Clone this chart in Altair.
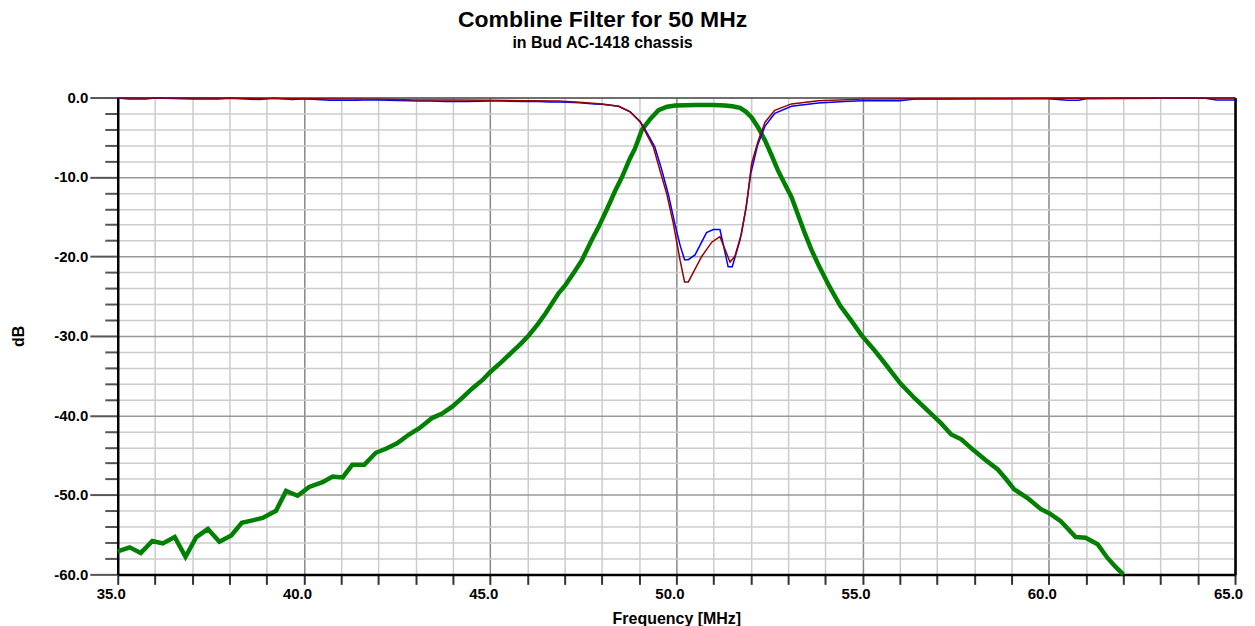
import altair as alt
import pandas as pd

# ---- data ----
GREEN_F = [35.0, 35.32, 35.62, 35.93, 36.21, 36.53, 36.82, 37.11, 37.42, 37.73, 38.05, 38.33, 38.62, 38.89,
           39.25, 39.52, 39.83, 40.14, 40.5, 40.77, 41.04, 41.3, 41.62, 41.93, 42.2, 42.5, 42.82, 43.1, 43.45,
           43.7, 43.98, 44.25, 44.52, 44.78, 45.01, 45.3, 45.59, 45.82, 46.04, 46.28, 46.48, 46.84, 47.02,
           47.25, 47.46, 47.73, 47.91, 48.15, 48.36, 48.54, 48.75, 48.89, 49.07, 49.3, 49.52, 49.75, 49.97,
           50.5, 51.0, 51.31, 51.5, 51.71, 51.87, 52.02, 52.2, 52.38, 52.55, 52.73, 52.9, 53.09, 53.27, 53.45,
           53.63, 53.81, 54.1, 54.4, 54.7, 54.97, 55.3, 55.59, 56.0, 56.39, 56.75, 57.11, 57.38, 57.65, 57.96,
           58.3, 58.63, 58.85, 59.07, 59.43, 59.79, 60.01, 60.32, 60.5, 60.72, 60.99, 61.31, 61.57, 61.8, 62.0]
GREEN_DB = [-57.1, -56.6, -57.3, -55.8, -56.1, -55.3, -57.8, -55.3, -54.3, -55.9, -55.1, -53.5, -53.2, -52.9,
            -52.0, -49.5, -50.1, -49.0, -48.4, -47.7, -47.8, -46.2, -46.2, -44.7, -44.2, -43.5, -42.4, -41.6, -40.3,
            -39.8, -38.9, -37.8, -36.6, -35.6, -34.5, -33.3, -32.0, -31.0, -29.9, -28.5, -27.2, -24.6, -23.6,
            -22.0, -20.5, -17.9, -16.3, -13.9, -11.7, -10.0, -7.7, -6.4, -4.1, -2.7, -1.6, -1.15, -1.0,
            -0.95, -0.95, -1.0, -1.1, -1.3, -1.8, -2.5, -3.8, -5.4, -7.2, -9.2, -10.8, -12.5, -14.8, -17.1,
            -19.2, -21.0, -23.7, -26.2, -28.1, -29.9, -31.7, -33.4, -35.9, -37.8, -39.4, -41.0, -42.4, -43.0, -44.3,
            -45.6, -46.8, -48.0, -49.3, -50.4, -51.8, -52.3, -53.3, -54.2, -55.3, -55.4, -56.2, -57.9, -59.1, -60.0]

BLUE_F = [35.0, 35.3, 35.75, 36.0, 37.0, 37.7, 38.0, 38.8, 39.2, 39.7, 40.0, 40.7, 41.4, 41.6, 42.0, 43.1,
          43.4, 43.8, 44.4, 45.0, 45.3, 45.9, 46.3, 46.6, 46.9, 47.4, 47.8, 48.0, 48.45, 48.76, 49.03, 49.22,
          49.42, 49.6, 49.78, 49.96, 50.1, 50.22, 50.32, 50.5, 50.81, 50.99, 51.17, 51.39, 51.5, 51.71, 51.86,
          52.0, 52.18, 52.38, 52.64, 53.09, 53.81, 54.5, 55.0, 56.0, 56.4, 57.0, 58.0, 59.0, 60.0, 60.5, 60.8,
          61.0, 63.0, 64.2, 64.5, 65.0]
BLUE_DB = [-0.05, -0.2, -0.2, -0.05, -0.2, -0.2, -0.1, -0.25, -0.1, -0.25, -0.15, -0.35, -0.35, -0.3, -0.3, -0.45,
           -0.45, -0.5, -0.5, -0.45, -0.45, -0.5, -0.5, -0.55, -0.55, -0.65, -0.8, -0.85, -1.1, -1.8, -3.0, -4.5,
           -6.2, -9.0, -12.1, -15.9, -18.6, -20.4, -20.4, -19.8, -17.0, -16.6, -16.6, -21.3, -21.3, -17.9, -14.2,
           -9.5, -6.0, -3.6, -2.0, -1.1, -0.7, -0.5, -0.4, -0.4, -0.2, -0.2, -0.15, -0.15, -0.15, -0.35, -0.35,
           -0.15, -0.1, -0.1, -0.3, -0.3]

RED_F = [35.0, 37.0, 38.5, 40.0, 42.0, 43.0, 44.0, 45.0, 46.0, 46.84, 47.4, 48.0, 48.45, 48.76, 49.03, 49.2,
         49.38, 49.56, 49.74, 49.92, 50.1, 50.22, 50.32, 50.68, 50.95, 51.17, 51.44, 51.57, 51.75, 51.89, 52.02,
         52.2, 52.38, 52.64, 53.09, 53.81, 55.0, 57.0, 60.0, 65.0]
RED_DB = [-0.05, -0.05, -0.1, -0.15, -0.2, -0.3, -0.3, -0.35, -0.4, -0.45, -0.6, -0.8, -1.1, -1.8, -3.1, -4.6,
          -6.2, -9.2, -12.1, -15.9, -20.5, -23.2, -23.2, -20.0, -18.2, -17.5, -20.7, -20.0, -17.1, -13.3, -8.3,
          -5.4, -3.1, -1.6, -0.8, -0.4, -0.2, -0.15, -0.1, -0.05]

X_TICKS = list(range(35, 66))
Y_TICKS = list(range(-60, 1, 2))
TITLE = "Combline Filter for 50 MHz"
SUBTITLE = "in Bud AC-1418 chassis"
X_TITLE = "Frequency [MHz]"
Y_TITLE = "dB"

FONT = "Liberation Sans"

df_green = pd.DataFrame({"f": GREEN_F, "db": GREEN_DB})
df_blue = pd.DataFrame({"f": BLUE_F, "db": BLUE_DB})
df_red = pd.DataFrame({"f": RED_F, "db": RED_DB})

label_x = "datum.value % 5 === 0 ? replace(format(datum.value, '.1f'), '\u2212', '-') : ''"
label_y = "datum.value % 10 === 0 ? replace(format(datum.value, '.1f'), '\u2212', '-') : ''"

x_axis = alt.Axis(
    values=X_TICKS, title=X_TITLE, labelExpr=label_x,
    labelFont=FONT, labelFontSize=15, labelFontWeight="bold", labelColor="black",
    labelOffset=-7, labelPadding=2, labelFlush=False, labelOverlap=False,
    tickSize=10, tickWidth=2, tickColor="#333333",
    domain=True, domainColor="black", domainWidth=2.5,
    gridColor={"condition": [{"test": "datum.value === 35 || datum.value === 65", "value": "black"},
                             {"test": "datum.value % 5 === 0", "value": "#888888"}],
               "value": "#cccccc"},
    gridWidth=1.5,
    titleFont=FONT, titleFontSize=16, titleFontWeight="bold", titleColor="black", titlePadding=9,
)

y_axis = alt.Axis(
    values=Y_TICKS, title=Y_TITLE, labelExpr=label_y,
    labelFont=FONT, labelFontSize=15, labelFontWeight="bold", labelColor="black",
    labelPadding=2, labelOverlap=False,
    tickSize={"condition": {"test": "datum.value % 10 === 0", "value": 28}, "value": 13},
    tickWidth=2, tickColor="#555555",
    domain=True, domainColor="black", domainWidth=2.5,
    gridColor={"condition": [{"test": "datum.value === 0", "value": "#444444"},
                             {"test": "datum.value % 10 === 0", "value": "#999999"}],
               "value": "#cccccc"},
    gridWidth=1.5,
    titleFont=FONT, titleFontSize=16, titleFontWeight="bold", titleColor="black", titlePadding=27,
)

right_axis = alt.Axis(orient="right", labels=False, ticks=False, grid=False, domain=True,
                      domainColor="black", domainWidth=2.5, title="")

xs = alt.Scale(domain=[35, 65], nice=False, zero=False)
ys = alt.Scale(domain=[-60, 0], nice=False, zero=False)

green = alt.Chart(df_green).mark_line(color="#008000", strokeWidth=4.5).encode(
    x=alt.X("f:Q", scale=xs, axis=x_axis),
    y=alt.Y("db:Q", scale=ys, axis=y_axis),
)
blue = alt.Chart(df_blue).mark_line(color="#0000ff", strokeWidth=1.5).encode(
    x=alt.X("f:Q", scale=xs, axis=x_axis),
    y=alt.Y("db:Q", scale=ys, axis=None),
)
red = alt.Chart(df_red).mark_line(color="#990000", strokeWidth=1.5).encode(
    x=alt.X("f:Q", scale=xs, axis=x_axis),
    y=alt.Y("db:Q", scale=ys, axis=right_axis),
)

chart = alt.layer(green, blue, red).resolve_scale(y="shared").resolve_axis(y="independent").properties(
    width=1120, height=478,
    autosize=alt.AutoSizeParams(type="none"),
    padding={"left": 110, "top": 89, "right": 12, "bottom": 56},
    title=alt.TitleParams(
        text=TITLE, subtitle=SUBTITLE, font=FONT, fontSize=23, fontWeight="bold", color="black",
        subtitleFont=FONT, subtitleFontSize=16, subtitleFontWeight="bold", subtitleColor="black",
        subtitlePadding=3, anchor="middle", frame="group", dx=-74, offset=40,
    ),
).configure_view(stroke=None).configure(background="white")

chart.save("out.html", embed_options={"renderer": "svg", "actions": False})
